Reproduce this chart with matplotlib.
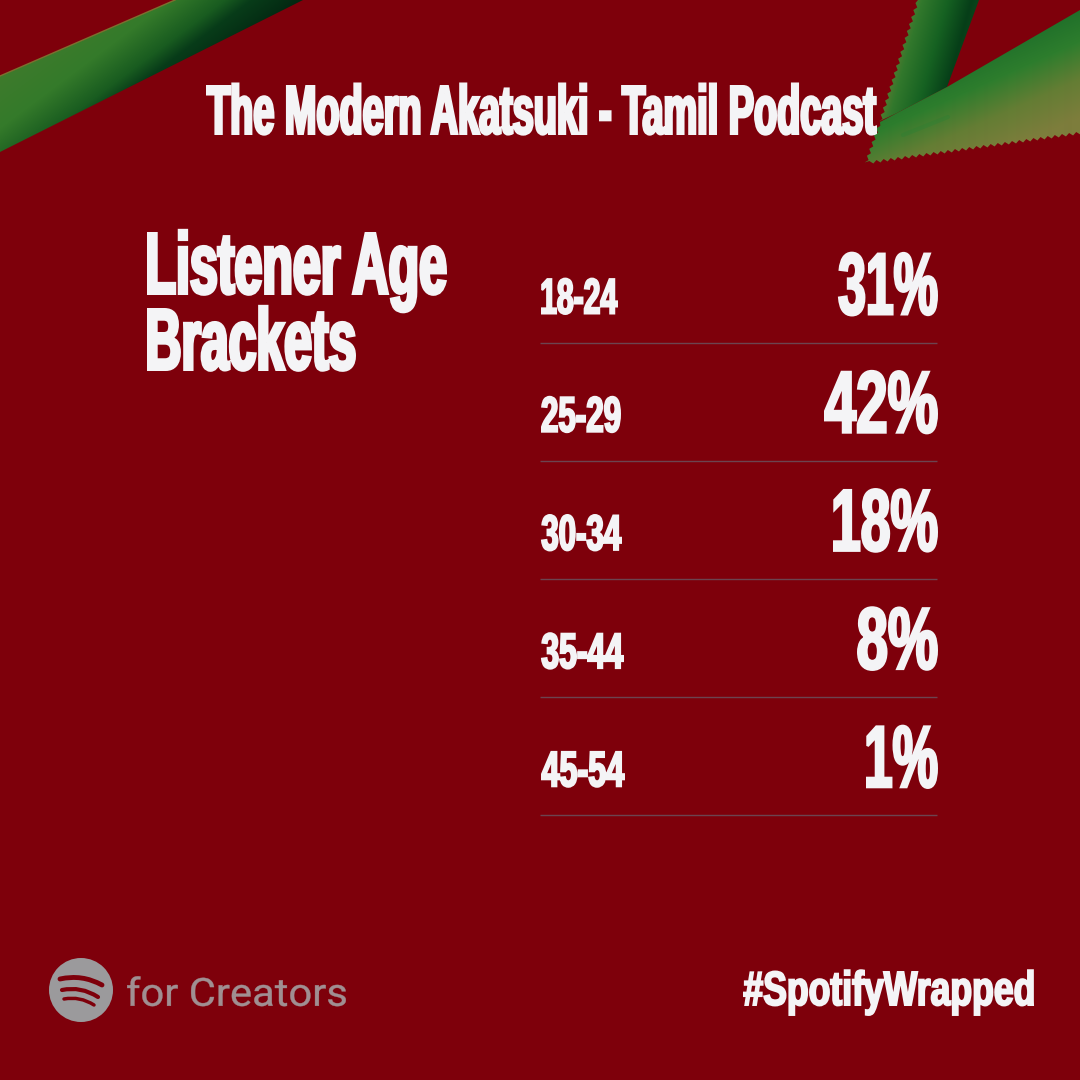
import numpy as np
import matplotlib
matplotlib.use("Agg")
import matplotlib.pyplot as plt
from matplotlib.patches import Polygon, Circle, PathPatch
from matplotlib.path import Path
from matplotlib.patheffects import AbstractPathEffect
from matplotlib.font_manager import FontProperties
from matplotlib.textpath import TextPath
from matplotlib.transforms import Affine2D

title = "The Modern Akatsuki - Tamil Podcast"
heading_lines = ["Listener Age", "Brackets"]
age_brackets = ["18-24", "25-29", "30-34", "35-44", "45-54"]
listener_share = [31, 42, 18, 8, 1]
brand = "for Creators"
hashtag = "#SpotifyWrapped"

# ink widths of the condensed lettering, in pixels
age_widths = [77, 80, 81, 83, 84]
share_widths = [100, 114, 105, 81, 72]

BG = "#7e000b"
WHITE = "#f4f4f6"
GREY = "#a08f92"
PX = 100 / 72  # pixels per point

fig = plt.figure(figsize=(10.8, 10.8), dpi=100, facecolor=BG)
ax = fig.add_axes([0, 0, 1, 1])
ax.set_xlim(0, 1080)
ax.set_ylim(1080, 0)
ax.axis("off")


class Tall(AbstractPathEffect):
    """Stretch a text's glyphs upward from the baseline, and fatten them."""

    def __init__(self, sy, stroke):
        super().__init__()
        self.sy, self.stroke = sy, stroke

    def draw_path(self, renderer, gc, tpath, affine, rgbFace=None):
        new = Affine2D().scale(1, self.sy) + affine
        gc0 = renderer.new_gc()
        gc0.copy_properties(gc)
        gc0.set_linewidth(self.stroke)
        if self.stroke:
            gc0.set_foreground(rgbFace)
        gc0.set_joinstyle("miter")
        renderer.draw_path(gc0, tpath, new, rgbFace)
        gc0.restore()


def put(left, base, s, cap, width, family="Liberation Sans", weight="bold", color=WHITE,
        heft=0.045, cap_ratio=0.688):
    """Real text whose ink spans `width` px from `left`, with cap height `cap` px, on baseline `base`."""
    stroke = heft * cap  # points
    sp = stroke * PX
    unit = FontProperties(family=family, weight=weight, size=100)
    ext = TextPath((0, 0), s, size=100, prop=unit).get_extents()
    size = (width - sp) / (ext.width / 100 * PX)
    sy = ((cap - sp) / cap_ratio / PX) / size
    x = left - ext.x0 / 100 * size * PX + sp / 2
    prop = FontProperties(family=family, weight=weight, size=size)
    t = ax.text(x, base - sp / 2, s, fontproperties=prop, color=color, ha="left", va="baseline", zorder=5)
    t.set_path_effects([Tall(sy, stroke)])
    return t


def zigzag(p, q, step=3.6, amp=1.5):
    p, q = np.array(p, float), np.array(q, float)
    n = int(np.linalg.norm(q - p) / step)
    normal = np.array([-(q - p)[1], (q - p)[0]]) / np.linalg.norm(q - p)
    return [tuple(p + (q - p) * i / n + normal * amp * (1 if i % 2 else -1)) for i in range(n)]


def ribbon(poly, a, b, stops, z):
    """Fill a polygon with a colour ramp running from point a to point b."""
    poly = np.array(poly, float)
    x0, x1 = poly[:, 0].min(), poly[:, 0].max()
    y0, y1 = poly[:, 1].min(), poly[:, 1].max()
    xs, ys = np.meshgrid(np.arange(x0, x1 + 1), np.arange(y0, y1 + 1))
    a, b = np.array(a, float), np.array(b, float)
    d = b - a
    t = np.clip(((xs - a[0]) * d[0] + (ys - a[1]) * d[1]) / (d @ d), 0, 1)
    pos = [s[0] for s in stops]
    img = np.dstack([np.interp(t, pos, [s[1][c] for s in stops]) for c in range(3)]) / 255
    im = ax.imshow(img, extent=(x0, x1 + 1, y1 + 1, y0), zorder=z, interpolation="bilinear", aspect="auto")
    patch = Polygon(poly, closed=True, transform=ax.transData, fc="none", ec="none")
    ax.add_patch(patch)
    im.set_clip_path(patch)
    ax.set_xlim(0, 1080)
    ax.set_ylim(1080, 0)


# top-left ribbon
ribbon([(0, 76), (175, 0), (303, 0), (0, 152)], (0, 75), (72, 171),
       [(0, (62, 122, 44)), (0.35, (52, 122, 42)), (0.62, (25, 92, 32)),
        (0.75, (8, 60, 25)), (1, (3, 40, 18))], 1)
ax.plot([0, 175], [76, 0], color="#7d6f2f", lw=1.0, zorder=1.5)

# top-right shapes
ribbon(zigzag((880, 122), (918, 0)) + [(918, 0), (979, 0), (947, 87), (897, 113)],
       (893, 40), (972, 62),
       [(0, (105, 125, 50)), (0.2, (50, 120, 44)), (0.5, (22, 98, 34)),
        (0.78, (6, 62, 24)), (1, (16, 78, 30))], 2)
lower = (zigzag((866, 163), (880, 122)) + [(880, 122), (897, 113), (947, 87), (1080, 10), (1080, 133)]
         + zigzag((1080, 133), (866, 163)))
ribbon(lower, (0, 489), (40, 579),
       [(0, (32, 112, 42)), (0.3, (45, 125, 45)), (0.65, (100, 125, 52)), (1, (125, 125, 60))], 3)
ax.plot([903, 948], [135, 117], color="#2a8034", lw=3, zorder=3.5, alpha=0.35, solid_capstyle="round")

# title and heading
put(206, 135, title, 50, 671, heft=0.042)
put(147, 295, heading_lines[0], 63, 300, heft=0.04)
put(147, 371, heading_lines[1], 63, 209, heft=0.04)

# table rows
row_base = 315.5
row_gap = 118.2
for i, (age, share) in enumerate(zip(age_brackets, listener_share)):
    y = row_base + i * row_gap
    label = f"{share}%"
    put(541, y - 1, age, 37, age_widths[i], cap_ratio=0.70, heft=0.04)
    put(938 - share_widths[i], y, label, 64, share_widths[i], cap_ratio=0.70, heft=0.03)
    ax.plot([540, 937], [y + 27, y + 27], color="#6c4450", lw=1, zorder=4, solid_capstyle="butt")

# footer
ax.add_patch(Circle((81, 990), 32, fc="#9b9a9c", ec="none", zorder=5))
arc_curves = [((60, 979), (82, 974), (102, 985), 3.5), ((62, 990), (81, 986), (98, 997), 3.0), ((64, 999), (80, 996), (94, 1005), 2.5)]
for p0, p1, p2, lw in arc_curves:
    ax.add_patch(PathPatch(Path([p0, p1, p2], [Path.MOVETO, Path.CURVE3, Path.CURVE3]), fc="none", ec=BG,
                           lw=lw, capstyle="round", zorder=6))
put(127, 1006, brand, 28, 219, family="Roboto", weight="normal", color=GREY, heft=0.01, cap_ratio=0.711)
put(743, 1006, hashtag, 35, 291, heft=0.04)

fig.savefig("out.png", dpi=100, facecolor=BG)
